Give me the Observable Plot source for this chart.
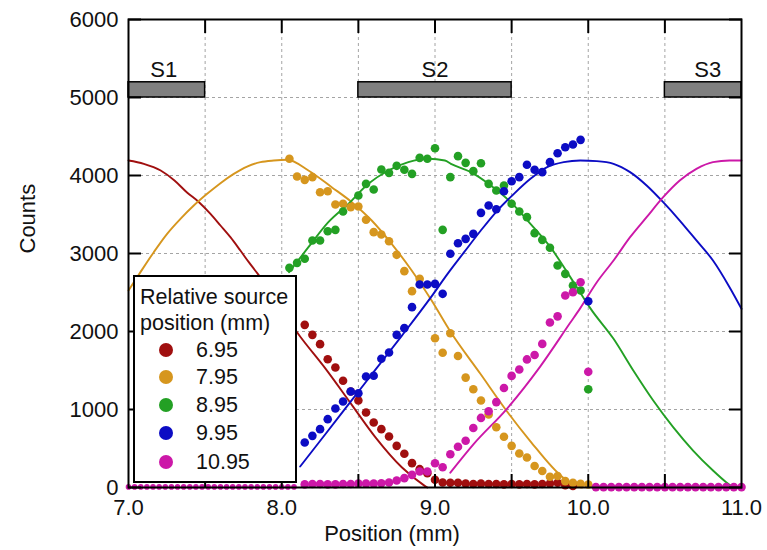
<!DOCTYPE html>
<html><head><meta charset="utf-8">
<script src="https://cdn.jsdelivr.net/npm/d3@7"></script>
<script src="https://cdn.jsdelivr.net/npm/@observablehq/plot@0.6"></script>
<style>
body{margin:0;background:#fff;font-family:"Liberation Sans",Arial,sans-serif}
#wrap{position:relative;width:767px;height:550px}
#legend{position:absolute;left:133px;top:275px;width:160px;height:204px;border:2px solid #000;background:#fff;font-size:21.5px;color:#111}
#legend .row{position:absolute;height:26px;line-height:26px;white-space:nowrap}
#legend .dot{position:absolute;width:14px;height:14px;border-radius:50%}
</style></head><body><div id="wrap"></div>
<script>
const seriesNames = ["6.95","7.95","8.95","9.95","10.95"];
const seriesColors = ["#a00f0f","#d6961e","#23a024","#0c0cc4","#cc18a8"];

const xLabelTicks = [7,8,9,10,11];
const xMinorTicks = [7.5,8,8.5,9,9.5,10,10.5];
const yTicks = [0,1000,2000,3000,4000,5000,6000];
const gridX = [7.5,8,8.5,9,9.5,10,10.5];
const gridY = [1000,2000,3000,4000,5000];

const sLabels = ["S1","S2","S3"];
const sStart = [7.0,8.5,10.5];
const sEnd = [7.5,9.5,11.0];
const sLabelX = [7.23,9.0,10.78];
const sBase = 5000, sTop = 5195, sLabelY = 5350;

// measured points [position mm, counts]
const dots695 = [[8.15,2085],[8.20,1957],[8.25,1838],[8.30,1645],[8.35,1538],[8.40,1368],[8.45,1231],[8.50,1115],[8.55,962],[8.60,833],[8.65,748],[8.70,654],[8.75,534],[8.80,432],[8.85,312],[8.90,235],[8.95,184],[9.00,100],[9.05,64],[9.10,60],[9.15,60],[9.20,50],[9.25,45],[9.30,50],[9.35,45],[9.40,45],[9.45,40],[9.50,45],[9.55,40],[9.60,45],[9.65,40],[9.70,45],[9.75,50],[9.80,60],[9.85,30],[9.90,20]];
const dots795 = [[8.05,4214],[8.10,3987],[8.15,3944],[8.20,3979],[8.25,3786],[8.30,3799],[8.35,3628],[8.40,3637],[8.45,3594],[8.50,3603],[8.55,3432],[8.60,3274],[8.65,3244],[8.70,3158],[8.75,2983],[8.80,2774],[8.85,2517],[8.90,2675],[9.00,1914],[9.05,1728],[9.10,1978],[9.15,1685],[9.20,1409],[9.25,1259],[9.30,1116],[9.35,935],[9.40,772],[9.45,651],[9.50,534],[9.55,435],[9.60,384],[9.65,276],[9.70,211],[9.75,138],[9.80,147],[9.85,82],[9.90,60],[9.95,47],[10.00,39]];
const dots895 = [[8.05,2816],[8.10,2880],[8.15,2932],[8.20,3167],[8.25,3167],[8.30,3286],[8.35,3303],[8.40,3538],[8.50,3744],[8.55,3893],[8.60,3821],[8.65,4077],[8.70,4034],[8.75,4124],[8.80,4073],[8.85,4021],[8.90,4226],[8.95,4214],[9.00,4350],[9.05,3303],[9.10,3979],[9.15,4248],[9.20,4162],[9.25,4056],[9.30,4158],[9.35,3893],[9.40,3808],[9.45,3872],[9.50,3637],[9.55,3538],[9.60,3466],[9.65,3261],[9.70,3175],[9.75,3073],[9.80,2846],[9.85,2739],[9.90,2590],[9.95,2526],[10.00,1259]];
const dots995 = [[8.15,577],[8.20,662],[8.25,748],[8.30,876],[8.35,1013],[8.40,1103],[8.45,1231],[8.50,1209],[8.55,1423],[8.60,1432],[8.65,1650],[8.70,1731],[8.75,1957],[8.80,2043],[8.85,2312],[8.90,2603],[8.95,2603],[9.00,2611],[9.05,2483],[9.10,2996],[9.15,3132],[9.20,3188],[9.25,3252],[9.30,3521],[9.35,3615],[9.40,3568],[9.45,3799],[9.50,3927],[9.55,3979],[9.60,4137],[9.65,4073],[9.70,4043],[9.75,4171],[9.80,4286],[9.85,4363],[9.90,4397],[9.95,4457],[10.00,2388]];
const dots1095 = [[8.15,40],[8.20,45],[8.25,45],[8.30,40],[8.35,40],[8.40,45],[8.45,45],[8.50,50],[8.55,50],[8.60,50],[8.65,55],[8.70,65],[8.75,90],[8.80,120],[8.85,162],[8.90,205],[8.95,205],[9.00,310],[9.05,260],[9.10,427],[9.15,522],[9.20,599],[9.25,763],[9.30,892],[9.35,978],[9.40,1095],[9.45,1276],[9.50,1431],[9.55,1513],[9.60,1642],[9.65,1698],[9.70,1841],[9.75,2116],[9.80,2194],[9.85,2461],[9.90,2504],[9.95,2632],[10.00,1483],
  [10.05,5],[10.10,5],[10.15,5],[10.20,5],[10.25,5],[10.30,5],[10.35,5],[10.40,5],[10.45,5],[10.50,5],[10.55,5],[10.60,5],[10.65,5],[10.70,5],[10.75,5],[10.80,5],[10.85,5],[10.90,5],[10.95,5],[11.00,5]];
const smallDots1095 = [[7.00,8],[7.04,8],[7.08,8],[7.12,8],[7.16,8],[7.20,8],[7.24,8],[7.28,8],[7.32,8],[7.36,8],[7.40,8],[7.44,8],[7.48,8],[7.52,8],[7.56,8],[7.60,8],[7.64,8],[7.68,8],[7.72,8],[7.76,8],[7.80,8],[7.84,8],[7.88,8],[7.92,8],[7.96,8],[8.00,8],[8.04,8],[8.08,8]];

// fitted curves
const fit695 = [[7.00,4192],[7.10,4150],[7.21,4064],[7.30,3936],[7.38,3786],[7.46,3658],[7.535,3508],[7.60,3359],[7.665,3209],[7.73,3038],[7.785,2889],[7.84,2748],[8.12,1936],[8.283,1530],[8.457,1060],[8.609,650],[8.783,260],[8.924,34],[8.95,0]];
const fit795 = [[7.00,2526],[7.078,2761],[7.165,3017],[7.252,3252],[7.339,3444],[7.426,3615],[7.513,3765],[7.60,3902],[7.687,4021],[7.774,4115],[7.861,4171],[7.948,4192],[8.035,4201],[8.174,4064],[8.326,3850],[8.457,3658],[8.587,3423],[8.717,3124],[8.848,2782],[8.978,2397],[9.10,2000],[9.295,1461],[9.469,978],[9.62,599],[9.837,125],[9.924,17],[9.96,0]];
const fit895 = [[8.048,2761],[8.174,3081],[8.304,3402],[8.435,3637],[8.565,3893],[8.696,4064],[8.826,4171],[8.957,4214],[9.065,4192],[9.104,4150],[9.234,4043],[9.364,3872],[9.494,3658],[9.623,3380],[9.753,3081],[9.883,2697],[9.97,2430],[10.013,2300],[10.165,1906],[10.294,1500],[10.424,1115],[10.554,774],[10.684,474],[10.814,218],[10.90,68],[10.944,4]];
const fit995 = [[8.12,269],[8.283,679],[8.457,1120],[8.609,1504],[8.783,1944],[8.974,2440],[9.082,2739],[9.19,3017],[9.299,3295],[9.407,3551],[9.515,3765],[9.623,3957],[9.732,4107],[9.84,4171],[9.948,4192],[10.056,4184],[10.165,4150],[10.273,4043],[10.381,3872],[10.489,3658],[10.597,3423],[10.706,3167],[10.814,2910],[10.922,2568],[11.0,2291]];
const fit1095 = [[9.10,190],[9.252,556],[9.469,1009],[9.685,1547],[9.881,2108],[9.948,2300],[10.056,2632],[10.165,2910],[10.273,3209],[10.381,3466],[10.489,3722],[10.597,3936],[10.706,4085],[10.814,4171],[10.922,4192],[11.0,4192]];

const dotSets = [dots695,dots795,dots895,dots995,dots1095];
const fitSets = [fit695,fit795,fit895,fit995,fit1095];

const dotRows = dotSets.flatMap((s,i)=>s.map(([x,y])=>({x,y,series:seriesNames[i]})));
const smallRows = smallDots1095.map(([x,y])=>({x,y,series:seriesNames[4]}));
const fitRows = fitSets.flatMap((s,i)=>s.map(([x,y])=>({x,y,series:seriesNames[i]})));
const sBars = sLabels.map((l,i)=>({label:l,start:sStart[i],end:sEnd[i],lx:sLabelX[i]}));

const font = {fontSize:22, fill:"#111"};
const empty = () => "";

const chart = Plot.plot({
  width:767, height:550,
  marginLeft:128, marginRight:26, marginTop:19, marginBottom:63,
  style:{fontFamily:"'Liberation Sans', Arial, sans-serif", background:"#fff", overflow:"visible"},
  x:{domain:[7,11]},
  y:{domain:[0,6000]},
  color:{domain:seriesNames, range:seriesColors},
  marks:[
    Plot.ruleX(gridX,{x:d=>d, stroke:"#9a9a9a", strokeWidth:0.9, strokeDasharray:"3,3"}),
    Plot.ruleY(gridY,{y:d=>d, stroke:"#9a9a9a", strokeWidth:0.9, strokeDasharray:"3,3"}),
    Plot.rect(sBars,{x1:"start", x2:"end", y1:sBase, y2:sTop, fill:"#808080", stroke:"#000", strokeWidth:1.5}),
    Plot.text(sBars,{x:"lx", y:sLabelY, text:"label", ...font}),
    Plot.line(fitRows,{x:"x", y:"y", z:"series", stroke:"series", strokeWidth:1.9, curve:"monotone-x"}),
    Plot.dot(smallRows,{x:"x", y:"y", fill:"series", r:2.8}),
    Plot.dot(dotRows,{x:"x", y:"y", fill:"series", r:4.3}),
    Plot.axisY({anchor:"left", ticks:yTicks, tickSize:0, tickPadding:10, label:null, tickFormat:d=>String(d), ...font}),
    Plot.axisX({anchor:"bottom", ticks:xLabelTicks, tickSize:0, tickPadding:12, label:null, tickFormat:d=>d.toFixed(1), ...font}),
    Plot.axisY({anchor:"left", ticks:yTicks, tickSize:13, dx:13, tickFormat:empty, label:null, strokeWidth:2}),
    Plot.axisY({anchor:"right", ticks:yTicks, tickSize:13, dx:-13, tickFormat:empty, label:null, strokeWidth:2}),
    Plot.axisX({anchor:"top", ticks:xMinorTicks, tickSize:13, dy:13, tickFormat:empty, label:null, strokeWidth:2}),
    Plot.axisX({anchor:"bottom", ticks:xMinorTicks, tickSize:13, dy:-13, tickFormat:empty, label:null, strokeWidth:2}),
    Plot.frame({stroke:"#000", strokeWidth:2}),
    Plot.text(["Counts"],{frameAnchor:"left", dx:-101, rotate:-90, text:d=>d, ...font}),
    Plot.text(["Position (mm)"],{frameAnchor:"bottom", dx:-43, dy:53, text:d=>d, ...font})
  ]
});
const wrap = document.getElementById("wrap");
wrap.appendChild(chart);

const legend = document.createElement("div");
legend.id = "legend";
const titleLines = ["Relative source","position (mm)"];
titleLines.forEach((t,i)=>{
  const r = document.createElement("div");
  r.className="row"; r.style.left="5px"; r.style.top=(7+i*26)+"px"; r.textContent=t;
  legend.appendChild(r);
});
const rowCenters = [73,100,128,156,185];
seriesNames.forEach((n,i)=>{
  const d = document.createElement("div");
  d.className="dot"; d.style.left="24px"; d.style.top=(rowCenters[i]-7)+"px"; d.style.background=seriesColors[i];
  legend.appendChild(d);
  const r = document.createElement("div");
  r.className="row"; r.style.left="61px"; r.style.top=(rowCenters[i]-13)+"px"; r.textContent=n;
  legend.appendChild(r);
});
wrap.appendChild(legend);
</script>
</body></html>
